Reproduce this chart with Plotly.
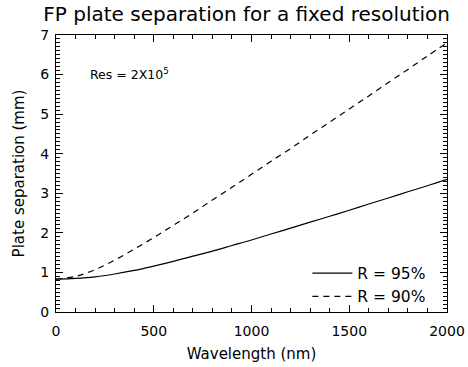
import plotly.graph_objects as go

# Wavelength grid (nm)
wavelength = [0, 100, 200, 300, 400, 500, 600, 700, 800, 900, 1000,
              1100, 1200, 1300, 1400, 1500, 1600, 1700, 1800, 1900, 2000]

# Plate separation (mm) for reflectivity R = 95%
sep_r95 = [0.83, 0.85, 0.89, 0.96, 1.05, 1.16, 1.28, 1.41, 1.54, 1.68, 1.82,
           1.97, 2.12, 2.27, 2.42, 2.57, 2.73, 2.88, 3.04, 3.19, 3.35]

# Plate separation (mm) for reflectivity R = 90%
sep_r90 = [0.83, 0.90, 1.07, 1.31, 1.59, 1.88, 2.19, 2.50, 2.83, 3.15, 3.48,
           3.81, 4.13, 4.47, 4.80, 5.13, 5.46, 5.80, 6.13, 6.47, 6.80]

x_range = [0, 2000]
y_range = [0, 7]
x_tick_step = 500
x_minor_step = 100
y_tick_step = 1
y_minor_step = 0.1

FONT = "DejaVu Sans"

fig = go.Figure()
fig.add_trace(go.Scatter(x=wavelength, y=sep_r95, mode="lines", name="R = 95%",
                         line=dict(color="black", width=1.2, shape="spline")))
fig.add_trace(go.Scatter(x=wavelength, y=sep_r90, mode="lines", name="R = 90%",
                         line=dict(color="black", width=1.2, shape="spline",
                                   dash="6px,5px")))

axis_common = dict(
    showgrid=False, zeroline=False, showline=True, linecolor="black",
    linewidth=1, mirror="allticks", ticks="inside", tickcolor="black",
    tickwidth=1, tickfont=dict(family=FONT, size=14, color="black"),
    automargin=False, tickmode="linear", tick0=0, ticklen=7,
)


def minor_ticks(step):
    return dict(tickmode="linear", tick0=0, dtick=step, ticks="inside",
                ticklen=4, tickcolor="black", tickwidth=1, showgrid=False)


fig.update_layout(
    xaxis=dict(range=x_range, dtick=x_tick_step, ticklabelstandoff=6,
               minor=minor_ticks(x_minor_step),
               title=dict(text="Wavelength (nm)", standoff=10,
                          font=dict(family=FONT, size=15, color="black")),
               **axis_common),
    yaxis=dict(range=y_range, dtick=y_tick_step, ticklabelstandoff=3,
               minor=minor_ticks(y_minor_step),
               title=dict(text="Plate separation (mm)", standoff=12,
                          font=dict(family=FONT, size=15, color="black")),
               **axis_common),
)

fig.add_annotation(x=0.082, y=0.86, xref="paper", yref="paper",
                   xanchor="left", yanchor="middle", showarrow=False,
                   text="Res = 2X10<sup>5</sup>",
                   font=dict(family=FONT, size=12.5, color="black"))

fig.update_layout(
    width=468, height=367,
    margin=dict(l=56, r=21, t=35, b=55, autoexpand=False),
    paper_bgcolor="white", plot_bgcolor="white",
    title=dict(text="FP plate separation for a fixed resolution",
               x=0.527, xanchor="center", y=0.962, yanchor="middle",
               font=dict(family=FONT, size=20, color="black")),
    showlegend=True,
    legend=dict(x=0.96, y=0.2, xanchor="right", yanchor="top",
                bgcolor="rgba(0,0,0,0)", borderwidth=0,
                font=dict(family=FONT, size=15.5, color="black"),
                tracegroupgap=0, itemwidth=40),
)

fig.write_html("out.html")
